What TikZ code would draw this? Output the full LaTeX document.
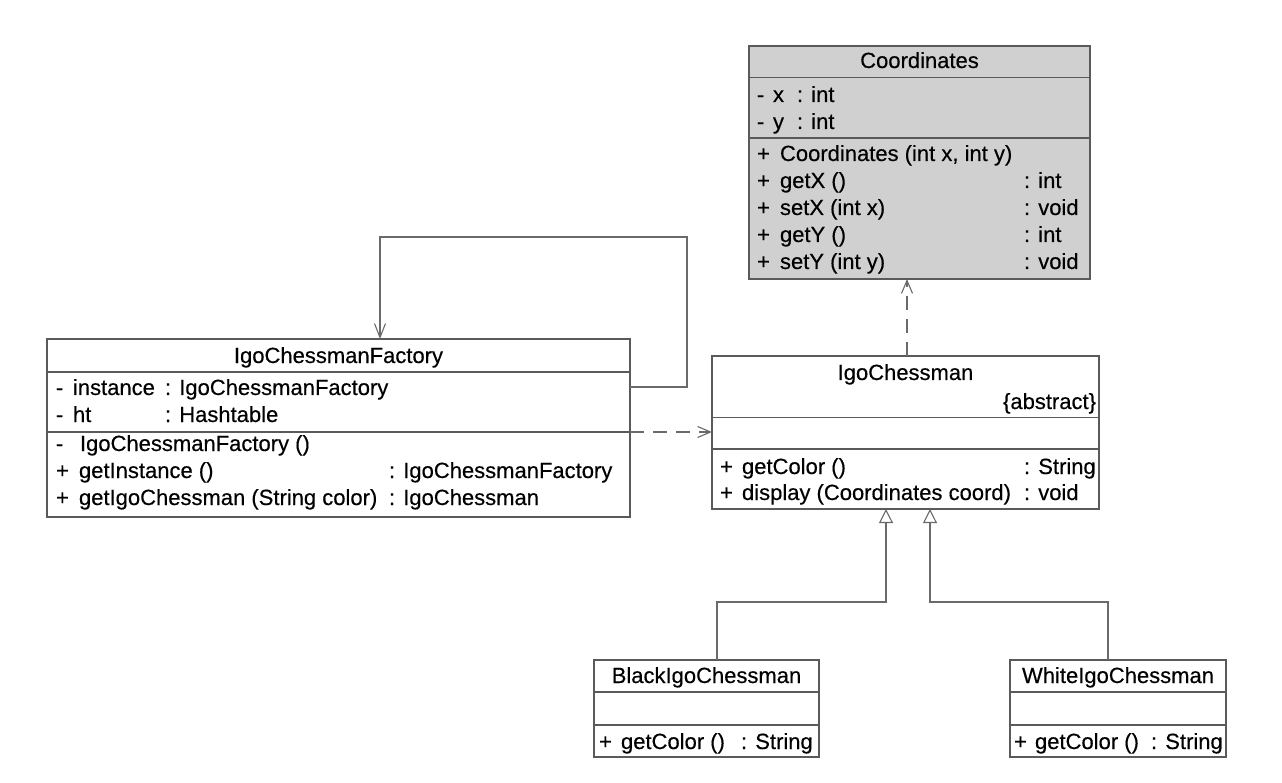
\documentclass[tikz,border=0pt]{standalone}
\usepackage{fontspec}
\setmainfont{Liberation Sans}
\newfontfamily\umlf{Liberation Sans}[FakeBold=0.35]
\usetikzlibrary{arrows.meta,shadows}
\definecolor{boxgray}{HTML}{D0D0D0}
\definecolor{edge}{HTML}{5A5A5A}
\definecolor{wire}{HTML}{6A6A6A}
\tikzset{
  umlbox/.style={draw=edge, line width=1.1pt, fill=white, inner sep=0pt, outer sep=0pt, anchor=north west,
    drop shadow={shadow xshift=1.4pt, shadow yshift=-1.4pt, opacity=1, fill=black!70}},
  sep/.style={draw=edge, line width=1.1pt},
  lbl/.style={anchor=base west, inner sep=0pt, outer sep=0pt, font=\umlf\fontsize{22}{26}\selectfont, text=black},
  ttl/.style={anchor=base, inner sep=0pt, outer sep=0pt, font=\umlf\fontsize{22}{26}\selectfont, text=black},
  rlbl/.style={anchor=base east, inner sep=0pt, outer sep=0pt, font=\umlf\fontsize{22}{26}\selectfont, text=black},
  wirestyle/.style={draw=wire, line width=1.1pt},
  depend/.style={wirestyle, dash pattern=on 14pt off 9pt, -{Straight Barb[length=13pt, width=11pt, line width=1.1pt]}},
  assoc/.style={wirestyle, -{Straight Barb[length=14pt, width=11pt, line width=1.1pt]}},
  inherit/.style={wirestyle, -{Triangle[open, length=14pt, width=14pt, line width=1.1pt]}}
}
\begin{document}
\begin{tikzpicture}[x=1pt, y=-1pt]
\useasboundingbox (0,0) rectangle (1282,783);

% ---------- Coordinates ----------
\node[umlbox, fill=boxgray, minimum width=341pt, minimum height=233pt] (coord) at (749,46) {};
\draw[sep] (749,77.5) -- (1090,77.5);
\draw[sep] (749,138) -- (1090,138);
\node[ttl] (coordT) at (919.5,68) {Coordinates};
\node[lbl] (ca1m) at (757,102) {-};
\node[lbl] (ca1n) at (773,102) {x};
\node[lbl] (ca1t) at (797,102) {: int};
\node[lbl] (ca2m) at (757,129) {-};
\node[lbl] (ca2n) at (773,129) {y};
\node[lbl] (ca2t) at (797,129) {: int};
\node[lbl] (cm1p) at (757,161) {+};
\node[lbl] (cm1n) at (780,161) {Coordinates (int x, int y)};
\node[lbl] (cm2p) at (757,188) {+};
\node[lbl] (cm2n) at (780,188) {getX ()};
\node[lbl] (cm2t) at (1024,188) {: int};
\node[lbl] (cm3p) at (757,215) {+};
\node[lbl] (cm3n) at (780,215) {setX (int x)};
\node[lbl] (cm3t) at (1024,215) {: void};
\node[lbl] (cm4p) at (757,242) {+};
\node[lbl] (cm4n) at (780,242) {getY ()};
\node[lbl] (cm4t) at (1024,242) {: int};
\node[lbl] (cm5p) at (757,269) {+};
\node[lbl] (cm5n) at (780,269) {setY (int y)};
\node[lbl] (cm5t) at (1024,269) {: void};

% ---------- IgoChessmanFactory ----------
\node[umlbox, minimum width=583pt, minimum height=178pt] (fac) at (47,339) {};
\draw[sep] (47,372) -- (630,372);
\draw[sep] (47,432) -- (630,432);
\node[ttl] (facT) at (338.5,363) {IgoChessmanFactory};
\node[lbl] (fa1m) at (56,395) {-};
\node[lbl] (fa1n) at (73,395) {instance};
\node[lbl] (fa1t) at (165,395) {: IgoChessmanFactory};
\node[lbl] (fa2m) at (56,422) {-};
\node[lbl] (fa2n) at (73,422) {ht};
\node[lbl] (fa2t) at (165,422) {: Hashtable};
\node[lbl] (fm1p) at (56,451) {-};
\node[lbl] (fm1n) at (80,451) {IgoChessmanFactory ()};
\node[lbl] (fm2p) at (56,478) {+};
\node[lbl] (fm2n) at (79,478) {getInstance ()};
\node[lbl] (fm2t) at (389,478) {: IgoChessmanFactory};
\node[lbl] (fm3p) at (56,505) {+};
\node[lbl] (fm3n) at (79,505) {getIgoChessman (String color)};
\node[lbl] (fm3t) at (389,505) {: IgoChessman};

% ---------- IgoChessman ----------
\node[umlbox, minimum width=387pt, minimum height=153pt] (ic) at (712,356) {};
\draw[sep] (712,417.5) -- (1099,417.5);
\draw[sep] (712,449) -- (1099,449);
\node[ttl] (icT) at (905.5,380) {IgoChessman};
\node[rlbl] (icA) at (1096,409) {\{abstract\}};
\node[lbl] (im1p) at (720,474) {+};
\node[lbl] (im1n) at (742,474) {getColor ()};
\node[lbl] (im1t) at (1024,474) {: String};
\node[lbl] (im2p) at (720,500) {+};
\node[lbl] (im2n) at (742,500) {display (Coordinates coord)};
\node[lbl] (im2t) at (1024,500) {: void};

% ---------- BlackIgoChessman ----------
\node[umlbox, minimum width=225pt, minimum height=97pt] (black) at (594,660) {};
\draw[sep] (594,692) -- (819,692);
\draw[sep] (594,725) -- (819,725);
\node[ttl] (blackT) at (706.5,683) {BlackIgoChessman};
\node[lbl] (bm1p) at (599,749) {+};
\node[lbl] (bm1n) at (621,749) {getColor ()};
\node[lbl] (bm1t) at (741,749) {: String};

% ---------- WhiteIgoChessman ----------
\node[umlbox, minimum width=216pt, minimum height=97pt] (white) at (1010,660) {};
\draw[sep] (1010,692) -- (1226,692);
\draw[sep] (1010,725) -- (1226,725);
\node[ttl] (whiteT) at (1118,683) {WhiteIgoChessman};
\node[lbl] (wm1p) at (1014,749) {+};
\node[lbl] (wm1n) at (1035,749) {getColor ()};
\node[lbl] (wm1t) at (1151,749) {: String};

% ---------- connectors ----------
\draw[assoc] (fac.north east |- 0,387) -- (687,387) -- (687,237) -- (380,237) -- (fac.north -| 380,0);
\draw[depend] (fac.east |- 0,432) -- (ic.west |- 0,432);
\draw[depend] (ic.north -| 907,0) -- (coord.south -| 907,0);
\draw[inherit] (black.north -| 717,0) -- (717,602) -- (886,602) -- (ic.south -| 886,0);
\draw[inherit] (white.north -| 1108,0) -- (1108,602) -- (930,602) -- (ic.south -| 930,0);
\end{tikzpicture}
\end{document}
